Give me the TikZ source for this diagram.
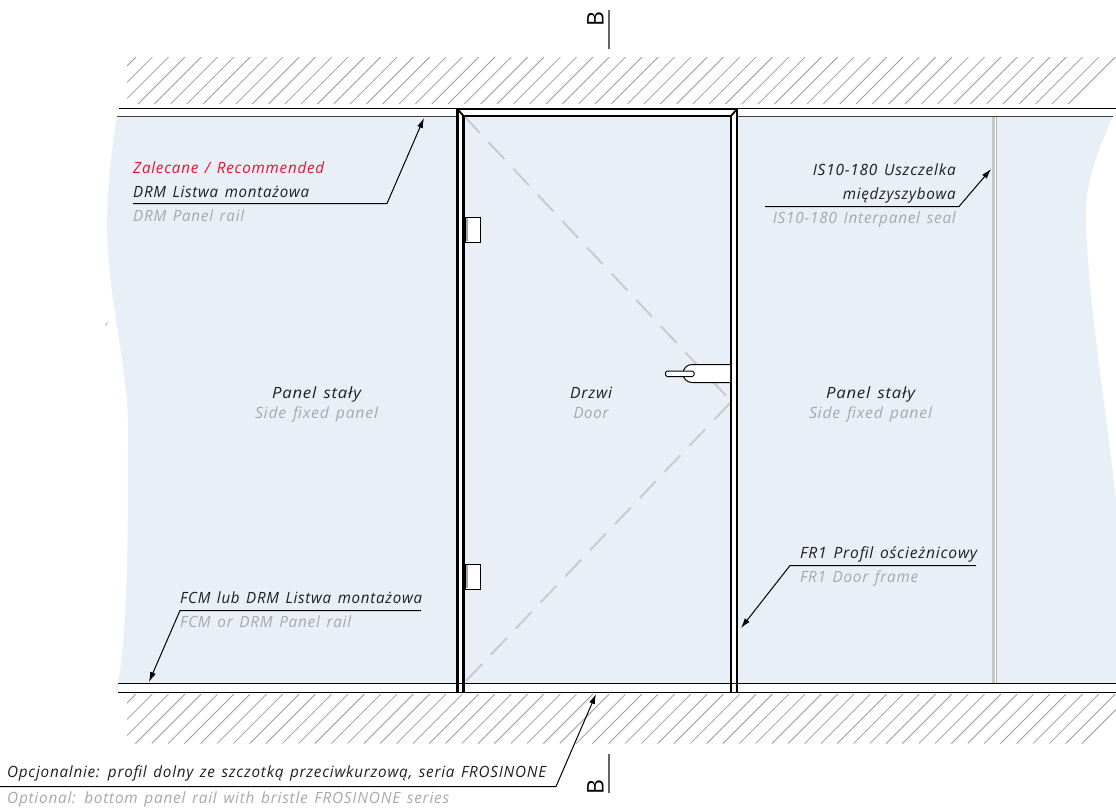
\documentclass[tikz,border=0pt]{standalone}
\usepackage{fontspec}
\usepackage{graphicx}
\usetikzlibrary{arrows.meta}
\setmainfont{Open Sans}[LetterSpace=5,WordSpace=1.4]
\newfontfamily\sectfont{Open Sans}
\definecolor{panelblue}{HTML}{E9EFF7}
\definecolor{hatchgray}{HTML}{9C9C9C}
\definecolor{dashgray}{HTML}{C9CBD0}
\definecolor{subgray}{HTML}{A8A8A8}
\definecolor{recred}{HTML}{E8112D}
\definecolor{inkdark}{HTML}{1E1E1E}
\newcommand{\fitw}[2]{\resizebox{#1pt}{\height}{#2}}
\tikzset{
  lbl/.style={inner sep=0pt,font=\fontsize{15.5}{18}\selectfont\itshape,text=inkdark},
  sub/.style={lbl,text=subgray},
  rec/.style={lbl,text=recred},
  hatch/.style={draw=hatchgray,line width=0.8pt},
  wall/.style={draw=black,line width=1.1pt},
  wallg/.style={draw=black!75,line width=1.4pt},
  frame/.style={draw=black,line width=2.8pt},
  leader/.style={draw=black,line width=1pt},
  leaderarrow/.style={leader,-{Latex[length=10pt,width=6pt]}},
  sect/.style={draw=black!60,line width=1.1pt},
  fitting/.style={draw=black,line width=1pt,fill=white},
  sectb/.style={inner sep=0pt,font=\fontsize{23}{25}\selectfont\sectfont,rotate=90}
}
\begin{document}
\begin{tikzpicture}[x=1pt,y=-1pt]
\useasboundingbox (0,0) rectangle (1116,807);
% hatch
\begin{scope}
\clip (127,57) rectangle (1116,104);
\foreach \k in {0,...,60} {
  \pgfmathsetmacro{\s}{193+16.32*\k}
  \draw[hatch] (\s-104,104) -- (\s-57,57);
}
\end{scope}
\begin{scope}
\clip (127,694) rectangle (1116,743.5);
\foreach \k in {0,...,61} {
  \pgfmathsetmacro{\s}{830+16.32*\k}
  \draw[hatch] (\s-743.5,743.5) -- (\s-694,694);
}
\end{scope}
% panels
\fill[panelblue] (117,116) .. controls (110,160) and (105,205) .. (108,250)
  .. controls (111,310) and (128,370) .. (128,430)
  .. controls (128,530) and (128,630) .. (118,683)
  -- (456,683) -- (456,116) -- cycle;
\fill[panelblue] (464,116) rectangle (730,683);
\fill[panelblue] (738,116) -- (1113,116)
  .. controls (1100,145) and (1087,180) .. (1086,205)
  .. controls (1085,280) and (1105,400) .. (1116,500)
  -- (1116,683) -- (738,683) -- cycle;
% small tick
\draw[draw=hatchgray,line width=0.7pt] (105.5,325.5) -- (107.5,322.5);
% seal
\fill[white] (992,116) rectangle (996.5,683);
\draw[draw=black!22,line width=2.2pt] (993.4,116) -- (993.4,683);
\draw[draw=black!30,line width=0.9pt] (996.2,116) -- (996.2,683);
% walls
\draw[wall] (119,108.5) -- (1116,108.5);
\draw[wallg] (117,116.5) -- (456,116.5);
\draw[wallg] (738,116.5) -- (1113,116.5);
\draw[wall] (118,683.5) -- (1116,683.5);
\draw[wall] (118,692.5) -- (1116,692.5);
% door diagonals
\draw[draw=dashgray,line width=2pt,dash pattern=on 23pt off 13pt] (464,116) -- (730,400);
\draw[draw=dashgray,line width=2pt,dash pattern=on 23pt off 13pt] (730,403) -- (464,683);
% frame
\draw[frame,line cap=butt] (457.5,693) -- (457.5,109) -- (737,109) -- (737,693);
\draw[frame,line cap=butt] (463.5,693) -- (463.5,116) -- (731,116) -- (731,693);
\draw[draw=black,line width=1.8pt] (457.5,109) -- (463.5,116);
\draw[draw=black,line width=1.8pt] (737,109) -- (731,116);
% hinges
\foreach \y/\n in {217/a,564/b} {
  \draw[fitting] (465,\y) rectangle (480,\y+25);
  \fill[black!35] (465.5,\y+0.6) rectangle (467.5,\y+24.4);
}
% handle
\draw[fitting] (730,364.5) -- (692,364.5) arc[start angle=90,end angle=270,radius=9pt] -- (730,382.5);
\draw[fitting,rounded corners=1.5pt] (665.5,371) rectangle (694,376.5);
% coordinates for leaders
\coordinate (drmtip) at (424,118);
\coordinate (drmknee) at (387,203.5);
\coordinate (drmend) at (133,203.5);
\coordinate (istip) at (991,169);
\coordinate (isknee) at (959,206.5);
\coordinate (isend) at (765,206.5);
\coordinate (frtip) at (741,628);
\coordinate (frknee) at (790,565.5);
\coordinate (frend) at (976,565.5);
\coordinate (fcmtip) at (149,682);
\coordinate (fcmknee) at (180,610.5);
\coordinate (fcmend) at (421,610.5);
\coordinate (opttip) at (596,694);
\coordinate (optknee) at (556,786.5);
\coordinate (optend) at (0,786.5);
\draw[leaderarrow] (drmend) -- (drmknee) -- (drmtip);
\draw[leaderarrow] (isend) -- (isknee) -- (istip);
\draw[leaderarrow] (frend) -- (frknee) -- (frtip);
\draw[leaderarrow] (fcmend) -- (fcmknee) -- (fcmtip);
\draw[leaderarrow] (optend) -- (optknee) -- (opttip);
% section marks
\coordinate (bta) at (609,10);
\coordinate (btb) at (609,49);
\coordinate (bba) at (609,754);
\coordinate (bbb) at (609,793);
\draw[sect] (bta) -- (btb);
\draw[sect] (bba) -- (bbb);
\node[sectb,anchor=base] (bt) at (603.5,19) {B};
\node[sectb,anchor=base] (bb) at (603.5,787) {B};
% labels
\node[rec,anchor=base west] (t1) at (133,173) {\fitw{191}{Zalecane / Recommended}};
\node[lbl,anchor=base west] (t2) at (133,197) {\fitw{176}{DRM Listwa montażowa}};
\node[sub,anchor=base west] (t3) at (133,221) {\fitw{111}{DRM Panel rail}};
\node[lbl,anchor=base] (t4) at (316.5,398) {\fitw{89}{Panel stały}};
\node[sub,anchor=base] (t5) at (316.5,418) {\fitw{123}{Side fixed panel}};
\node[lbl,anchor=base] (t6) at (591,398) {\fitw{42}{Drzwi}};
\node[sub,anchor=base] (t7) at (591,418) {\fitw{35}{Door}};
\node[lbl,anchor=base] (t8) at (870.5,398) {\fitw{89}{Panel stały}};
\node[sub,anchor=base] (t9) at (870.5,418) {\fitw{123}{Side fixed panel}};
\node[lbl,anchor=base east] (t10) at (956,175) {\fitw{143}{IS10-180 Uszczelka}};
\node[lbl,anchor=base east] (t11) at (956,199) {\fitw{113}{międzyszybowa}};
\node[sub,anchor=base east] (t12) at (956,223) {\fitw{183}{IS10-180 Interpanel seal}};
\node[lbl,anchor=base west] (t13) at (800,558) {\fitw{177}{FR1 Profil ościeżnicowy}};
\node[sub,anchor=base west] (t14) at (800,582) {\fitw{118}{FR1 Door frame}};
\node[lbl,anchor=base west] (t15) at (180,603) {\fitw{242}{FCM lub DRM Listwa montażowa}};
\node[sub,anchor=base west] (t16) at (180,627) {\fitw{171}{FCM or DRM Panel rail}};
\node[lbl,anchor=base west] (t17) at (7,777) {\fitw{539}{Opcjonalnie: profil dolny ze szczotką przeciwkurzową, seria FROSINONE}};
\node[sub,anchor=base west] (t18) at (7,803) {\fitw{442}{Optional: bottom panel rail with bristle FROSINONE series}};
\end{tikzpicture}
\end{document}
